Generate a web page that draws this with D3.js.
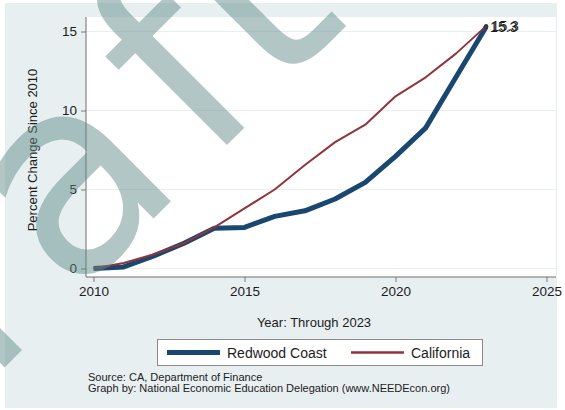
<!DOCTYPE html>
<html>
<head>
<meta charset="utf-8">
<script src="https://cdn.jsdelivr.net/npm/d3@7"></script>
<style>
  body { margin: 0; background: #fff; }
  svg { display: block; }
  text { font-family: "Liberation Sans", Arial, sans-serif; }
</style>
</head>
<body>
<svg id="chart" width="565" height="410"></svg>
<script>
// Population change since 2010, percent
const years = [2010, 2011, 2012, 2013, 2014, 2015, 2016, 2017, 2018, 2019, 2020, 2021, 2022, 2023];
const redwoodCoast = [0, 0.1, 0.8, 1.6, 2.55, 2.6, 3.3, 3.65, 4.4, 5.45, 7.1, 8.9, 12.1, 15.28];
const california  = [0, 0.35, 0.9, 1.6, 2.6, 3.8, 5.0, 6.55, 8.0, 9.1, 10.9, 12.1, 13.6, 15.34];
const seriesNames = ["Redwood Coast", "California"];
const xTicks = [2010, 2015, 2020, 2025];
const yTicks = [0, 5, 10, 15];
const xTitle = "Year: Through 2023";
const yTitle = "Percent Change Since 2010";
const notes = ["Source: CA, Department of Finance",
               "Graph by: National Economic Education Delegation (www.NEEDEcon.org)"];
const stampParts = ["Dr", "a", "ft"];

const svg = d3.select("#chart");
const W = 565, H = 410;
const plot = { left: 86, right: 556, top: 17, bottom: 277 };
const colors = ["#1a476f", "#90353b"];
const widths = [5, 2];

// graph region and plot region
svg.append("rect").attr("width", W).attr("height", H).attr("fill", "#ffffff");
svg.append("rect").attr("x", 5).attr("y", 3).attr("width", 552).attr("height", 405).attr("fill", "#e7eff1");
svg.append("rect").attr("x", plot.left).attr("y", plot.top)
  .attr("width", plot.right - plot.left).attr("height", plot.bottom - plot.top).attr("fill", "#ffffff");

const x = d3.scaleLinear().domain([2010, 2025]).range([93.5, 546.5]);
const y = d3.scaleLinear().domain([0, 15]).range([268.5, 31.5]);

// horizontal gridlines
svg.append("g").selectAll("line").data(yTicks).join("line")
  .attr("x1", plot.left).attr("x2", plot.right)
  .attr("y1", d => y(d)).attr("y2", d => y(d))
  .attr("stroke", "#e9eef0").attr("stroke-width", 1);

// axes
const yAxis = svg.append("g").attr("transform", `translate(${plot.left},0)`)
  .call(d3.axisLeft(y).tickValues(yTicks).tickSize(5).tickPadding(4).tickFormat(d3.format("d")));
const xAxis = svg.append("g").attr("transform", `translate(0,${plot.bottom})`)
  .call(d3.axisBottom(x).tickValues(xTicks).tickSize(5).tickPadding(4).tickFormat(d3.format("d")));
[yAxis, xAxis].forEach(g => {
  g.select(".domain").remove();
  g.selectAll(".tick line").attr("stroke", "#7a7a7a");
  g.selectAll(".tick text").attr("fill", "#1c1c1c").style("font-size", "13.5px")
    .style("font-family", '"Liberation Sans", Arial, sans-serif');
});
svg.append("line").attr("x1", plot.left).attr("x2", plot.left)
  .attr("y1", plot.top).attr("y2", plot.bottom).attr("stroke", "#6f6f6f");
svg.append("line").attr("x1", plot.left).attr("x2", plot.right)
  .attr("y1", plot.bottom).attr("y2", plot.bottom).attr("stroke", "#6f6f6f");

// series lines
const series = [redwoodCoast, california];
const line = d3.line().x((d, i) => x(years[i])).y(d => y(d));
series.forEach((vals, k) => {
  svg.append("path").datum(vals).attr("d", line)
    .attr("fill", "none").attr("stroke", colors[k]).attr("stroke-width", widths[k])
    .attr("stroke-linejoin", "round");
});

// last-year markers and value labels
const fmt = d3.format(".1f");
series.forEach((vals, k) => {
  const n = vals.length - 1;
  svg.append("circle").attr("cx", x(years[n])).attr("cy", y(vals[n])).attr("r", 2.2).attr("fill", "#3a3a3a");
  svg.append("text").attr("x", x(years[n]) + 4 + k * 1.5).attr("y", y(vals[n]) + 5)
    .attr("fill", "#1c1c1c").style("font-size", "14px").text(fmt(vals[n]));
});

// axis titles
svg.append("text").attr("x", 314).attr("y", 327).attr("text-anchor", "middle")
  .attr("fill", "#1c1c1c").style("font-size", "13px").text(xTitle);
svg.append("text").attr("transform", "translate(37,150) rotate(-90)").attr("text-anchor", "middle")
  .attr("fill", "#1c1c1c").style("font-size", "13px").text(yTitle);

// legend
const lg = svg.append("g");
lg.append("rect").attr("x", 157.5).attr("y", 339.5).attr("width", 325).attr("height", 26)
  .attr("fill", "#ffffff").attr("stroke", "#8a8a8a");
const legendX = [167, 351];
seriesNames.forEach((name, k) => {
  lg.append("line").attr("x1", legendX[k]).attr("x2", legendX[k] + 53)
    .attr("y1", 352.5).attr("y2", 352.5).attr("stroke", colors[k]).attr("stroke-width", k === 0 ? 5 : 2.5);
  lg.append("text").attr("x", legendX[k] + 60).attr("y", 357.5)
    .attr("fill", "#1c1c1c").style("font-size", "14px").text(name);
});

// notes
notes.forEach((t, i) => {
  svg.append("text").attr("x", 88).attr("y", 381 + i * 11)
    .attr("fill", "#1c1c1c").style("font-size", "11px").text(t);
});

// diagonal watermark
const stampGaps = [0, -1, 18];
const wm = svg.append("text").attr("transform", "translate(-165.9,537.9) rotate(-45)")
  .attr("fill", "#5f8a86").attr("fill-opacity", 0.48)
  .style("font-family", '"DejaVu Sans", sans-serif')
  .style("font-size", "272px").style("letter-spacing", "7px");
stampParts.forEach((t, i) => wm.append("tspan").attr("dx", stampGaps[i]).text(t));
</script>
</body>
</html>
